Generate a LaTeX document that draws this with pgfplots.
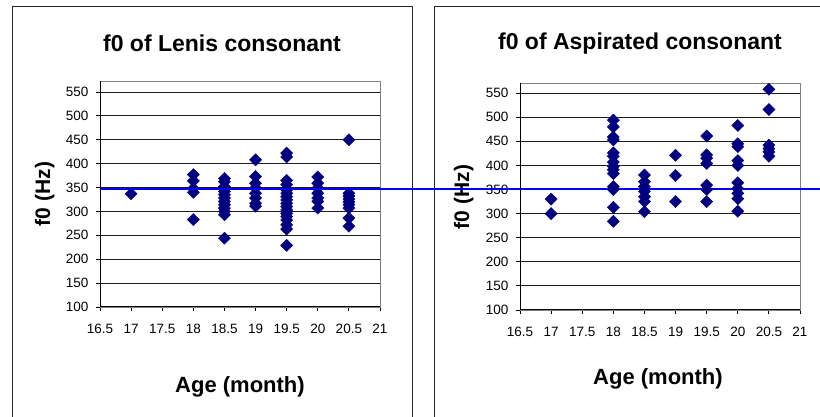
\documentclass[border=0pt]{standalone}
\usepackage{pgfplots}
\pgfplotsset{compat=1.18}
\usepackage{fontspec}
\setmainfont{Liberation Sans}
\definecolor{navy}{RGB}{0,0,128}
\definecolor{gridc}{RGB}{30,30,30}
\definecolor{boxc}{RGB}{128,128,128}

\pgfplotsset{myax/.style={
  scale only axis, width=280pt, xmin=16.5, xmax=21, ymin=100,
  xtick={16.5,17,17.5,18,18.5,19,19.5,20,20.5,21},
  ytick={100,150,200,250,300,350,400,450,500,550},
  axis line style={boxc, line width=0.9pt},
  tick align=outside, tick pos=left, major tick length=4pt,
  every tick/.style={black, line width=0.8pt},
  ymajorgrids, major grid style={gridc, line width=0.8pt},
  tick label style={font=\fontsize{13.5}{16}\selectfont},
  yticklabel style={xshift=-4pt},
  xticklabel style={yshift=-10pt},
  /pgf/number format/assume math mode=true,
  clip=false,
  after end axis/.code={\draw[black, line width=1pt] (rel axis cs:0,1) -- (rel axis cs:0,0) -- (rel axis cs:1,0);},
}}
\pgfplotsset{pts/.style={only marks, mark=square*, mark size=4.3pt,
  mark options={rotate=45, fill=navy, draw=navy}}}

\begin{document}
\begin{tikzpicture}[x=1pt,y=1pt]
\useasboundingbox (0,0) rectangle (820,417);
\clip (0,0) rectangle (820,417);
\draw[black!85, line width=1pt] (12,-10) rectangle (412,410);
\draw[black!85, line width=1pt] (434,-10) rectangle (840,410);

\node[font=\bfseries\fontsize{23}{26}\selectfont, anchor=base] at (222,365) {f0 of Lenis consonant};
\node[font=\bfseries\fontsize{23}{26}\selectfont, anchor=base] at (640,367) {f0 of Aspirated consonant};
\node[font=\bfseries\fontsize{22}{26}\selectfont, anchor=base] at (240,24) {Age (month)};
\node[font=\bfseries\fontsize{22}{26}\selectfont, anchor=base] at (658,32) {Age (month)};
\node[font=\bfseries\fontsize{21}{24}\selectfont, rotate=90, anchor=base] at (50,223) {f0 (Hz)};
\node[font=\bfseries\fontsize{21}{24}\selectfont, rotate=90, anchor=base] at (469,220) {f0 (Hz)};

\begin{axis}[myax, at={(100pt,110pt)}, anchor=south west, height=226pt, ymax=573]
\addplot[pts] coordinates {
(17,337)
(18,377) (18,364) (18,348) (18,340) (18,283)
(18.5,369) (18.5,362) (18.5,352) (18.5,342) (18.5,335) (18.5,328) (18.5,321) (18.5,314) (18.5,307) (18.5,300) (18.5,293) (18.5,244)
(19,408) (19,373) (19,359) (19,349) (19,338) (19,328) (19,317) (19,311)
(19.5,422) (19.5,414) (19.5,365) (19.5,356) (19.5,345) (19.5,338) (19.5,331) (19.5,324) (19.5,317) (19.5,310) (19.5,303) (19.5,296) (19.5,289) (19.5,282) (19.5,272) (19.5,263) (19.5,229)
(20,372) (20,359) (20,349) (20,338) (20,328) (20,321) (20,307)
(20.5,450) (20.5,338) (20.5,332) (20.5,326) (20.5,320) (20.5,314) (20.5,307) (20.5,286) (20.5,269)
};
\end{axis}

\begin{axis}[myax, at={(520pt,107pt)}, anchor=south west, height=227pt, ymax=571]
\addplot[pts] coordinates {
(17,330) (17,300)
(18,494) (18,480) (18,459) (18,453) (18,426) (18,419) (18,407) (18,398) (18,391) (18,383) (18,356) (18,350) (18,313) (18,284)
(18.5,380) (18.5,366) (18.5,356) (18.5,346) (18.5,335) (18.5,325) (18.5,304)
(19,421) (19,379) (19,325)
(19.5,461) (19.5,422) (19.5,415) (19.5,404) (19.5,359) (19.5,350) (19.5,325)
(20,483) (20,445) (20,439) (20,410) (20,400) (20,364) (20,352) (20,342) (20,331) (20,305)
(20.5,558) (20.5,516) (20.5,442) (20.5,435) (20.5,428) (20.5,419)
};
\addplot[blue, line width=2pt] coordinates {(9.75,351) (21.6,351)};
\end{axis}
\end{tikzpicture}
\end{document}
